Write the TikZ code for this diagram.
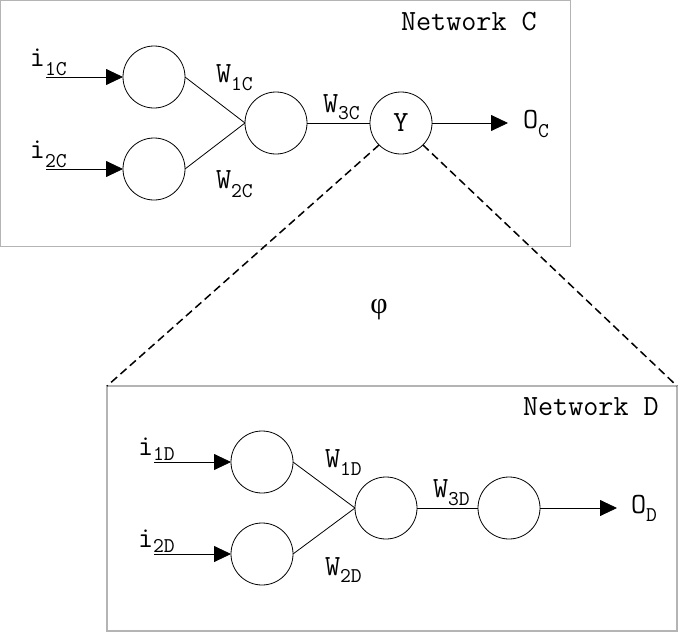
\documentclass[tikz,border=0pt]{standalone}
\usepackage{fontspec}
\setmainfont{Liberation Serif}
\usetikzlibrary{arrows.meta}

\definecolor{boxgray}{RGB}{180,180,180}

\newcommand{\lblfont}{\ttfamily\fontsize{29.3}{29.3}\selectfont}
\newcommand{\subfont}{\ttfamily\fontsize{21}{21}\selectfont}
% label with a lowered subscript: \wlbl[drop]{main}{sub}
\newcommand{\wlbl}[3][8pt]{#2\raisebox{-#1}{\subfont #3}}

\begin{document}
\begin{tikzpicture}[x=1pt, y=-1pt,
  neuron/.style={circle, draw, line width=0.8pt, minimum size=62pt,
                 inner sep=0pt, outer sep=0pt, font=\lblfont},
  netbox/.style={draw=boxgray, line width=1.3pt, inner sep=0pt, outer sep=0pt,
                 anchor=north west},
  conn/.style={line width=0.8pt},
  inarrow/.style={line width=0.8pt, -{Triangle[length=17pt, width=16pt]}},
  zoomline/.style={line width=1.5pt, dash pattern=on 8pt off 4.5pt},
  lbl/.style={anchor=base west, inner sep=0pt, outer sep=0pt, font=\lblfont}]

\useasboundingbox (0,0) rectangle (678,632);

% ---------------- Network C ----------------
\node[netbox, minimum width=570pt, minimum height=246pt] (netC) at (0.65,0.65) {};
\node[lbl] (titleC) at (401,30) {Network C};

\node[neuron] (i1c) at (154,77) {};
\node[neuron] (i2c) at (154,169) {};
\node[neuron] (hc) at (276,123) {};
\node[neuron] (yc) at (401,123) {Y};

\coordinate (s1c) at (46,77);
\coordinate (s2c) at (46,169);
\coordinate (oc) at (508,123);

\draw[inarrow] (s1c) -- (i1c.west);
\draw[inarrow] (s2c) -- (i2c.west);
\draw[conn] (i1c.east) -- (hc.west);
\draw[conn] (i2c.east) -- (hc.west);
\draw[conn] (hc.east) -- (yc.west);
\draw[inarrow] (yc.east) -- (oc);

\node[lbl] (li1c) at (30,66) {\wlbl[9pt]{i}{1C}};
\node[lbl] (li2c) at (30,158) {\wlbl[9pt]{i}{2C}};
\node[lbl] (lw1c) at (216,82) {\wlbl[8pt]{W}{1C}};
\node[lbl] (lw2c) at (216,188) {\wlbl[9pt]{W}{2C}};
\node[lbl] (lw3c) at (323,112) {\wlbl[7pt]{W}{3C}};
\node[lbl] (loc) at (523,128) {\wlbl[9pt]{O}{C}};

% ---------------- Network D ----------------
\node[netbox, minimum width=570pt, minimum height=245pt] (netD) at (107,386) {};
\node[lbl] (titleD) at (523,415) {Network D};

\node[neuron] (i1d) at (262,462) {};
\node[neuron] (i2d) at (262,554) {};
\node[neuron] (hd) at (386,508) {};
\node[neuron] (yd) at (509,508) {};

\coordinate (s1d) at (154,462);
\coordinate (s2d) at (154,554);
\coordinate (od) at (617,508);

\draw[inarrow] (s1d) -- (i1d.west);
\draw[inarrow] (s2d) -- (i2d.west);
\draw[conn] (i1d.east) -- (hd.west);
\draw[conn] (i2d.east) -- (hd.west);
\draw[conn] (hd.east) -- (yd.west);
\draw[inarrow] (yd.east) -- (od);

\node[lbl] (li1d) at (138,455) {\wlbl[5pt]{i}{1D}};
\node[lbl] (li2d) at (138,547) {\wlbl[5pt]{i}{2D}};
\node[lbl] (lw1d) at (325,467) {\wlbl[8pt]{W}{1D}};
\node[lbl] (lw2d) at (325,575) {\wlbl[7pt]{W}{2D}};
\node[lbl] (lw3d) at (433,497) {\wlbl[8pt]{W}{3D}};
\node[lbl] (lod) at (631,513) {\wlbl[8pt]{O}{D}};

% ---------------- mapping between the two ----------------
\draw[zoomline] (yc.225) -- (netD.north west);
\draw[zoomline] (yc.-45) -- (netD.north east);
\node[inner sep=0pt, font=\fontsize{30}{30}\selectfont] (phi) at (379,310) {φ};

\end{tikzpicture}
\end{document}
